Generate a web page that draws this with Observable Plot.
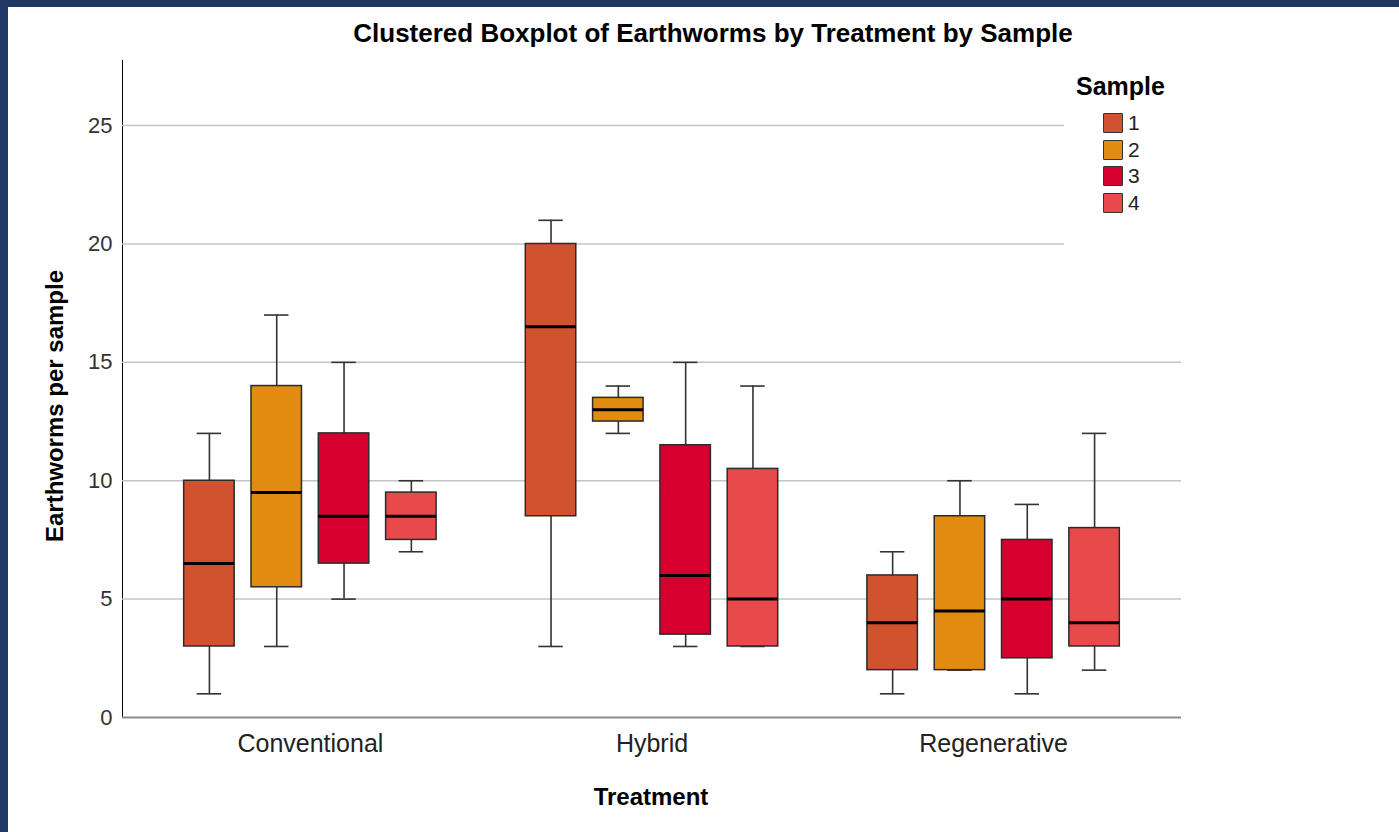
<!DOCTYPE html>
<html>
<head>
<meta charset="utf-8">
<script src="https://cdn.jsdelivr.net/npm/d3@7"></script>
<script src="https://cdn.jsdelivr.net/npm/@observablehq/plot@0.6"></script>
<style>
  html, body { margin: 0; padding: 0; }
  body {
    width: 1399px; height: 832px; overflow: hidden; position: relative;
    background: #1f3864;
    font-family: "Liberation Sans", Arial, sans-serif;
  }
  #panel { position: absolute; left: 8px; top: 7px; right: 0; bottom: 0; background: #fff; }
  .layer { position: absolute; left: 0; top: 0; width: 1399px; height: 832px; }
  .layer svg { background: transparent !important; max-width: none !important; }
  #back [aria-label^="y-axis"] text { font-size: 22px; fill: #333; }
  #back [aria-label^="x-axis"] text { font-size: 25px; fill: #222; }
  #back [aria-label^="y-axis"] .domain,
  #back [aria-label="y-axis line"] line { stroke: #8c8c8c; stroke-width: 2px; }
  .txt { position: absolute; color: #000; white-space: nowrap; line-height: 1; }
  #title { left: 0; width: 1426px; top: 20px; text-align: center; font-weight: bold; font-size: 26px; }
  #xtitle { left: 0; width: 1302px; top: 785px; text-align: center; font-weight: bold; font-size: 24px; }
  #ytitle { left: 55px; top: 406px; font-weight: bold; font-size: 24px;
            transform: translate(-50%, -50%) rotate(-90deg); }
  #legend { position: absolute; left: 1064px; top: 62px; width: 124px; height: 192px; background: #fff; }
  #legend .head { position: absolute; left: 12px; top: 12px; font-weight: bold; font-size: 25px; line-height: 1; }
  #legend .row { position: absolute; left: 39px; height: 21px; }
  #legend .sw { position: absolute; left: 0; top: 0; width: 18px; height: 18px; border: 1.5px solid #333; border-radius: 1px; }
  #legend .lab { position: absolute; left: 25px; top: -1px; font-size: 21px; line-height: 1; color: #222; }
</style>
</head>
<body>
<div id="panel"></div>
<div id="back" class="layer"></div>
<div id="front" class="layer"></div>
<div id="title" class="txt">Clustered Boxplot of Earthworms by Treatment by Sample</div>
<div id="ytitle" class="txt">Earthworms per sample</div>
<div id="xtitle" class="txt">Treatment</div>
<div id="legend"></div>
<script>
// Treatment groups and sample numbers
const treatments = ["Conventional", "Hybrid", "Regenerative"];
const samples = ["1", "2", "3", "4"];
const sampleColors = ["#d1522f", "#e18b10", "#d6002f", "#e8494a"];

// Box plot summaries, one row per treatment, one column per sample
const whiskerLow  = [[1, 3, 5, 7],        [3, 12, 3, 3],          [1, 2, 1, 2]];
const quartile1   = [[3, 5.5, 6.5, 7.5],  [8.5, 12.5, 3.5, 3],    [2, 2, 2.5, 3]];
const medians     = [[6.5, 9.5, 8.5, 8.5],[16.5, 13, 6, 5],       [4, 4.5, 5, 4]];
const quartile3   = [[10, 14, 12, 9.5],   [20, 13.5, 11.5, 10.5], [6, 8.5, 7.5, 8]];
const whiskerHigh = [[12, 17, 15, 10],    [21, 14, 15, 14],       [7, 10, 9, 12]];

// Axis ticks
const yTicks = [0, 5, 10, 15, 20, 25];
const yMax = 27.75;

const rows = treatments.flatMap((t, i) => samples.map((s, j) => ({
  treatment: t, sample: s,
  lo: whiskerLow[i][j], q1: quartile1[i][j], med: medians[i][j],
  q3: quartile3[i][j], hi: whiskerHigh[i][j]
})));

const W = 1399, H = 832;
const margins = { marginLeft: 122, marginRight: 218, marginTop: 60, marginBottom: 115 };
const groupPadding = { paddingInner: 0.2, paddingOuter: 0.15, round: false };

// Background layer: grid, axes and category labels
const back = Plot.plot({
  width: W, height: H, ...margins,
  style: { background: "transparent", fontFamily: "Liberation Sans, Arial, sans-serif", fontSize: "22px" },
  x: { type: "band", domain: treatments, ...groupPadding, label: null, tickSize: 0, tickPadding: 17 },
  y: { domain: [0, yMax], ticks: yTicks, tickSize: 0, tickPadding: 10, label: null, line: true },
  marks: [
    Plot.ruleY(yTicks.filter(d => d > 0), { stroke: "#c4c4c4", strokeWidth: 1.5 }),
    Plot.ruleY([0], { stroke: "#8c8c8c", strokeWidth: 2 })
  ]
});
document.getElementById("back").appendChild(back);

// Foreground layer: clustered boxes
const front = Plot.plot({
  width: W, height: H, ...margins,
  style: { background: "transparent" },
  fx: { domain: treatments, ...groupPadding, axis: null, label: null },
  x: { domain: samples, paddingInner: 0.25, paddingOuter: 0.155, round: false, axis: null },
  y: { domain: [0, yMax], axis: null },
  color: { domain: samples, range: sampleColors },
  marks: [
    Plot.ruleX(rows, { fx: "treatment", x: "sample", y1: "lo", y2: "q1", stroke: "#333", strokeWidth: 1.6 }),
    Plot.ruleX(rows, { fx: "treatment", x: "sample", y1: "q3", y2: "hi", stroke: "#333", strokeWidth: 1.6 }),
    Plot.tickY(rows, { fx: "treatment", x: "sample", y: "lo", inset: 13, stroke: "#333", strokeWidth: 1.6 }),
    Plot.tickY(rows, { fx: "treatment", x: "sample", y: "hi", inset: 13, stroke: "#333", strokeWidth: 1.6 }),
    Plot.barY(rows, { fx: "treatment", x: "sample", y1: "q1", y2: "q3", fill: "sample", stroke: "#2b2b2b", strokeWidth: 1.5 }),
    Plot.tickY(rows, { fx: "treatment", x: "sample", y: "med", stroke: "#000", strokeWidth: 3 })
  ]
});
document.getElementById("front").appendChild(front);

// Legend
const legend = document.getElementById("legend");
const head = document.createElement("div");
head.className = "head";
head.textContent = "Sample";
legend.appendChild(head);
samples.forEach((s, i) => {
  const row = document.createElement("div");
  row.className = "row";
  row.style.top = (51 + i * 26.7) + "px";
  const sw = document.createElement("div");
  sw.className = "sw";
  sw.style.background = sampleColors[i];
  const lab = document.createElement("div");
  lab.className = "lab";
  lab.textContent = s;
  row.appendChild(sw);
  row.appendChild(lab);
  legend.appendChild(row);
});
</script>
</body>
</html>
